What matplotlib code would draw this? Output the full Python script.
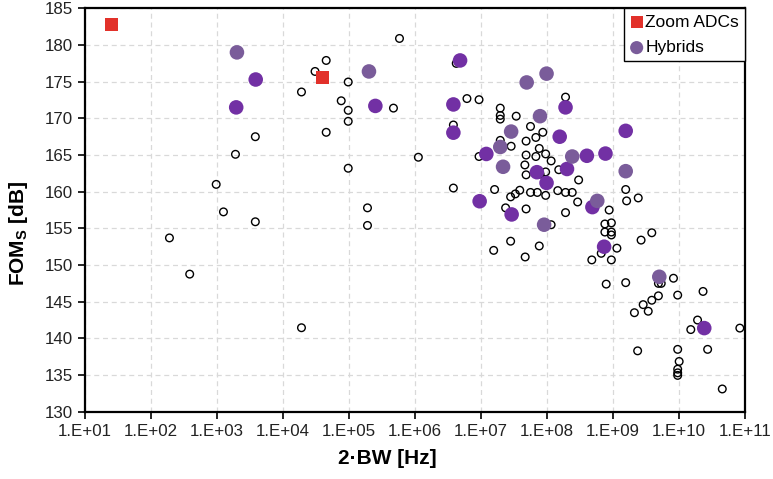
import math
import matplotlib.pyplot as plt
from matplotlib.ticker import FixedLocator, FuncFormatter, NullLocator

plt.rcParams['font.family'] = ['Liberation Sans', 'DejaVu Sans']
plt.rcParams['mathtext.fontset'] = 'custom'
plt.rcParams['mathtext.bf'] = 'Liberation Sans:bold'
plt.rcParams['mathtext.rm'] = 'Liberation Sans'

# Zoom ADCs (red squares)
zoom_bw = [25, 3.9e4]
zoom_fom = [182.8, 175.6]

# Hybrids (muted purple, in legend)
hyb_bw = [2.0e3, 2.0e5, 4.9e7, 9.8e7, 7.8e7, 2.85e7, 1.95e7, 2.15e7, 2.4e8,
          1.55e9, 5.75e8, 9.0e7, 5.0e9]
hyb_fom = [179.0, 176.4, 174.9, 176.1, 170.3, 168.2, 166.1, 163.4, 164.8,
           162.8, 158.75, 155.5, 148.4]

# other hybrid designs (bright purple)
hyb2_bw = [3.85e3, 1.95e3, 2.5e5, 4.8e6, 3.8e6, 3.8e6, 1.9e8, 1.55e9, 1.55e8,
           1.2e7, 4.0e8, 7.65e8, 2.0e8, 7.0e7, 9.8e7, 9.5e6, 4.85e8, 2.9e7,
           7.3e8, 2.4e10]
hyb2_fom = [175.3, 171.5, 171.7, 177.9, 171.9, 168.05, 171.5, 168.3, 167.5,
            165.15, 164.9, 165.2, 163.1, 162.66, 161.2, 158.7, 157.9, 156.9,
            152.5, 141.4]

# all other ADCs (open circles)
adc_bw = [4.5e4, 3.05e4, 9.7e4, 1.9e4, 7.6e4, 9.7e4, 9.7e4, 4.5e4, 3.8e3, 1.9e3,
          9.7e4, 9.7e2, 1.25e3, 1.9e5, 1.9e2, 3.85e2, 3.8e3, 1.9e4, 1.9e5, 5.8e5,
          4.7e5, 1.12e6, 4.2e6, 6.1e6, 9.3e6, 1.9e8, 1.95e7, 1.95e7, 1.95e7, 3.4e7,
          3.8e6, 5.6e7, 8.6e7, 6.75e7, 4.8e7, 1.95e7, 2.85e7, 7.6e7, 9.3e6, 4.8e7,
          6.75e7, 9.5e7, 1.15e8, 4.6e7, 4.8e7, 9.5e7, 7.8e7, 1.5e8, 3.0e8, 3.8e6,
          1.6e7, 2.8e7, 3.3e7, 3.85e7, 5.6e7, 7.1e7, 9.5e7, 1.45e8, 1.9e8, 2.4e8,
          1.55e9, 2.4e9, 1.6e9, 2.9e8, 2.35e7, 4.8e7, 1.9e8, 8.7e8, 1.15e8, 7.5e8,
          9.4e8, 7.5e8, 9.4e8, 9.4e8, 3.85e9, 2.65e9, 2.8e7, 1.55e7, 7.6e7, 4.65e7,
          6.6e8, 1.14e9, 4.75e8, 9.4e8, 7.85e8, 1.55e9, 4.85e9, 5.35e9, 8.2e9, 9.5e9,
          2.3e10, 4.85e9, 3.85e9, 2.85e9, 3.4e9, 2.1e9, 1.9e10, 1.5e10, 8.3e10, 2.35e9,
          9.5e9, 2.7e10, 1.0e10, 9.5e9, 9.5e9, 9.5e9, 4.5e10]
adc_fom = [177.9, 176.4, 174.96, 173.6, 172.4, 171.1, 169.6, 168.1, 167.5, 165.1,
           163.2, 161.0, 157.25, 157.8, 153.7, 148.76, 155.9, 141.45, 155.4, 180.9,
           171.4, 164.7, 177.5, 172.7, 172.55, 172.9, 171.4, 170.4, 169.9, 170.3,
           169.1, 168.9, 168.1, 167.4, 166.9, 167.0, 166.2, 165.9, 164.8, 165.0,
           164.8, 165.15, 164.2, 163.65, 162.3, 162.7, 162.4, 163.0, 161.6, 160.5,
           160.3, 159.3, 159.7, 160.2, 159.9, 159.9, 159.5, 160.15, 159.9, 159.9,
           160.3, 159.15, 158.75, 158.6, 157.8, 157.65, 157.15, 157.5, 155.5, 155.6,
           155.75, 154.5, 154.5, 154.1, 154.4, 153.4, 153.25, 152.0, 152.6, 151.1,
           151.6, 152.3, 150.7, 150.7, 147.4, 147.6, 147.5, 147.5, 148.2, 145.9,
           146.4, 145.8, 145.2, 144.6, 143.7, 143.5, 142.5, 141.2, 141.4, 138.3,
           138.5, 138.5, 136.85, 135.8, 135.3, 134.95, 133.1]

x_ticks = [10.0 ** k for k in range(1, 12)]
y_ticks = list(range(130, 186, 5))

fig = plt.figure(figsize=(7.73, 4.79), dpi=100)
ax = fig.add_axes([0.110, 0.1405, 0.854, 0.842])

ax.scatter(adc_bw, adc_fom, s=30, facecolors='none', edgecolors='black',
           linewidths=1.0, zorder=3)
ax.scatter(hyb2_bw, hyb2_fom, s=110, color='#7230A4', edgecolors='none', zorder=4)
ax.scatter(hyb_bw, hyb_fom, s=110, color='#7A5C9A', edgecolors='none', zorder=4,
           label='Hybrids')
ax.scatter(zoom_bw, zoom_fom, s=90, marker='s', color='#E2312A', edgecolors='none',
           zorder=5, label='Zoom ADCs')

ax.set_xscale('log')
ax.set_xlim(10, 1e11)
ax.set_ylim(130, 185)
ax.xaxis.set_major_locator(FixedLocator(x_ticks))
ax.xaxis.set_minor_locator(NullLocator())
ax.xaxis.set_major_formatter(FuncFormatter(lambda v, p: '1.E+%02d' % round(math.log10(v))))
ax.set_yticks(y_ticks)

ax.grid(True, color='#d9d9d9', linestyle=(0, (4, 3)), linewidth=0.9, zorder=0)
ax.set_axisbelow(True)
for s in ax.spines.values():
    s.set_linewidth(1.6)
    s.set_color('black')
ax.tick_params(axis='both', direction='out', length=5, width=1.2, labelsize=12.2,
               colors='black', labelcolor='#222222')

ax.set_xlabel('2·BW [Hz]', fontsize=15, fontweight='bold')
ax.set_ylabel(r'FOM$_\mathbf{S}$ [dB]', fontsize=15, fontweight='bold')
ax.xaxis.set_label_coords(0.458, -0.093)
ax.yaxis.set_label_coords(-0.084, 0.443)

handles, labels = ax.get_legend_handles_labels()
leg = ax.legend(handles[::-1], labels[::-1], loc='upper right', fontsize=12.5,
                frameon=True, fancybox=False, edgecolor='black', framealpha=1,
                borderaxespad=0, handletextpad=0.1, handlelength=0.8,
                borderpad=0.35, labelspacing=0.6, markerscale=0.9)
leg.get_frame().set_linewidth(1.0)

fig.savefig('out.png', dpi=100)
